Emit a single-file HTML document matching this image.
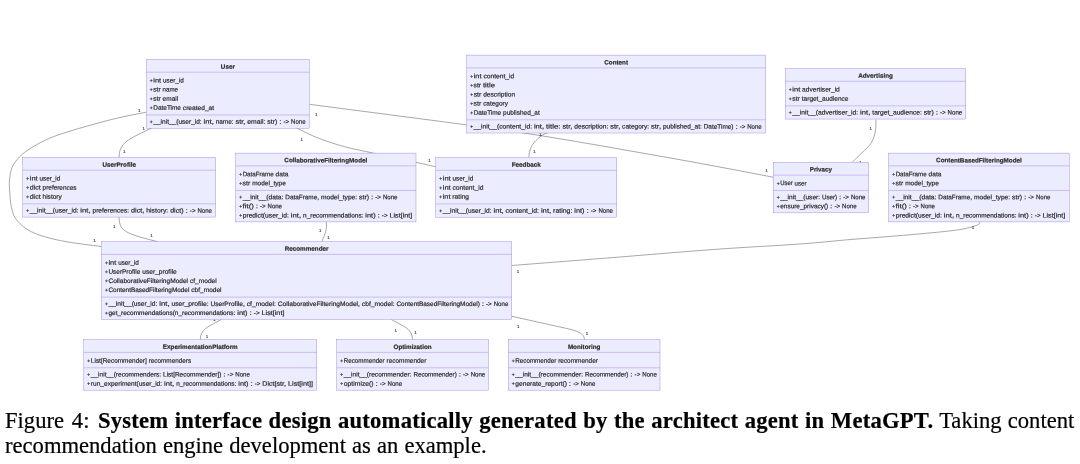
<!DOCTYPE html>
<html><head><meta charset="utf-8"><title>Figure 4</title>
<style>
html,body{margin:0;padding:0;background:#fff;}
body{width:1080px;height:464px;position:relative;overflow:hidden;}
svg,.cap{will-change:transform;}
svg text{text-rendering:geometricPrecision;font-family:"Liberation Sans",sans-serif;font-size:6.4px;fill:#2b2b2b;stroke:#2b2b2b;stroke-width:0.2;}
svg .pl{font-size:4.9px;}
svg .tt{font-weight:bold;text-anchor:middle;font-size:6.3px;}
svg .lb text{font-size:4.4px;text-anchor:middle;stroke:#333;stroke-width:0.12;fill:#333;}
.bx{fill:#ECECFF;stroke:#9370DB;stroke-width:0.38;}
.ln{fill:none;stroke:#9370DB;stroke-width:0.38;}
.cap b{letter-spacing:0.23px;}
.cap i{font-style:normal;margin-right:2.2px;word-spacing:1.6px;}
.cap{position:absolute;left:4.7px;top:407.9px;width:1069.3px;-webkit-text-stroke:0.2px #000;font-family:"Liberation Serif",serif;font-size:22.6px;line-height:25px;color:#000;}
.l1{white-space:nowrap;text-align:justify;text-align-last:justify;}
.l2{white-space:nowrap;word-spacing:0.45px;}
</style></head><body>
<svg width="1080" height="400" viewBox="0 0 1080 400" style="position:absolute;left:0;top:0">
<g fill="none" stroke="#505050" stroke-width="0.5">
<path d="M146.30,112.20C141.92,113.08 129.28,115.35 120.00,117.50C110.72,119.65 100.53,122.32 90.60,125.10C80.67,127.88 67.95,131.68 60.40,134.20C52.85,136.72 50.33,137.82 45.30,140.20C40.27,142.58 34.48,145.73 30.20,148.50C25.92,151.27 22.62,153.65 19.60,156.80C16.58,159.95 13.78,163.53 12.10,167.40C10.42,171.27 9.92,176.23 9.50,180.00C9.08,183.77 9.27,185.40 9.60,190.00C9.93,194.60 10.27,202.52 11.50,207.60C12.73,212.68 13.42,216.35 17.00,220.50C20.58,224.65 25.60,229.12 33.00,232.50C40.40,235.88 50.00,238.47 61.40,240.80C72.80,243.13 94.73,245.55 101.40,246.50"/>
<path d="M151.5,128.2C140,133.5 134,136.5 130,139C122,144 119.1,149 119.1,157.4"/>
<path d="M119.1,217.4C119.1,224 121,229 127.6,232.4C134,235.7 145,238.5 157.8,241.7"/>
<path d="M309.40,104.30C335.75,107.75 431.82,120.22 467.50,125.00C503.18,129.78 505.58,130.28 523.50,133.00C541.42,135.72 558.08,138.47 575.00,141.30C591.92,144.13 608.33,147.08 625.00,150.00C641.67,152.92 658.33,155.80 675.00,158.80C691.67,161.80 708.63,164.93 725.00,168.00C741.37,171.07 765.17,175.67 773.20,177.20"/>
<path d="M296.60,128.00C300.33,129.73 310.93,135.27 319.00,138.40C327.07,141.53 335.88,144.33 345.00,146.80C354.12,149.27 361.90,150.62 373.70,153.20C385.50,155.78 405.45,160.03 415.80,162.30C426.15,164.57 432.47,166.05 435.80,166.80"/>
<path d="M547.50,132.90C546.53,133.33 543.95,133.85 541.70,135.50C539.45,137.15 535.95,140.38 534.00,142.80C532.05,145.22 530.87,147.57 530.00,150.00C529.13,152.43 529.00,156.17 528.80,157.40"/>
<path d="M875.90,119.50C875.87,121.03 876.02,125.83 875.70,128.70C875.38,131.57 874.95,134.03 874.00,136.70C873.05,139.37 872.00,142.03 870.00,144.70C868.00,147.37 864.95,149.78 862.00,152.70C859.05,155.62 853.92,160.62 852.30,162.20"/>
<path d="M326.2,221.5C327.2,228 326,232 321.8,241.7"/>
<path d="M511.80,265.50C527.73,264.25 573.57,260.68 607.40,258.00C641.23,255.32 682.70,251.73 714.80,249.40C746.90,247.07 777.15,245.67 800.00,244.00C822.85,242.33 834.62,240.85 851.90,239.40C869.18,237.95 886.42,236.83 903.70,235.30C920.98,233.77 943.50,231.85 955.60,230.20C967.70,228.55 972.20,226.85 976.30,225.40C980.40,223.95 979.55,222.15 980.20,221.50"/>
<path d="M221.3,319.5L212,324.5C205.5,328 200.3,331.5 200.3,339.7"/>
<path d="M391.3,319.5L400,324.2C406,327.5 412.5,330.5 412.5,339.7"/>
<path d="M511.85,316.3L556,326.1C572,329.7 584.4,331.3 584.4,339.7"/>
</g>
<g class="lb">
<text x="139.3" y="112.0">1</text>
<text x="94.4" y="242.3">1</text>
<text x="143.7" y="129.5">1</text>
<text x="124.2" y="152.7">1</text>
<text x="114.3" y="228.3">1</text>
<text x="151.5" y="236.5">1</text>
<text x="316.3" y="115.5">1</text>
<text x="766.4" y="171.8">1</text>
<text x="301.8" y="141.0">1</text>
<text x="429.5" y="162.0">1</text>
<text x="540.3" y="135.5">1</text>
<text x="534.6" y="153.0">1</text>
<text x="870.8" y="130.4">1</text>
<text x="860.5" y="163.8">1</text>
<text x="320.2" y="232.0">1</text>
<text x="328.6" y="239.1">1</text>
<text x="518.0" y="273.3">1</text>
<text x="973.0" y="228.7">1</text>
<text x="214.5" y="320.8">1</text>
<text x="206.9" y="337.8">1</text>
<text x="395.7" y="332.3">1</text>
<text x="415.5" y="333.8">1</text>
<text x="518.2" y="328.1">1</text>
<text x="587.1" y="335.0">1</text>
</g>
<g>
<rect class="bx" x="146.30" y="59.40" width="163.10" height="68.80"/>
<path class="ln" d="M146.30,72.20H309.40M146.30,114.98H309.40"/>
<text class="tt" transform="rotate(0.03 227.8 68.7)" x="227.85" y="68.70">User</text>
<text class="pl" transform="rotate(0.03 150.0 82.5)" x="149.85" y="82.25">+</text><text transform="rotate(0.03 150.0 82.5)" x="153.34" y="82.50"><tspan x="153.34" textLength="7.82" lengthAdjust="spacingAndGlyphs">int</tspan> <tspan x="163.08" textLength="20.72" lengthAdjust="spacingAndGlyphs">user_id</tspan></text>
<text class="pl" transform="rotate(0.03 150.0 91.6)" x="149.85" y="91.37">+</text><text transform="rotate(0.03 150.0 91.6)" x="153.28" y="91.62"><tspan x="153.28" textLength="7.44" lengthAdjust="spacingAndGlyphs">str</tspan> <tspan x="162.60" textLength="15.30" lengthAdjust="spacingAndGlyphs">name</tspan></text>
<text class="pl" transform="rotate(0.03 150.0 100.7)" x="149.85" y="100.49">+</text><text transform="rotate(0.03 150.0 100.7)" x="153.29" y="100.74"><tspan x="153.29" textLength="7.47" lengthAdjust="spacingAndGlyphs">str</tspan> <tspan x="162.64" textLength="15.56" lengthAdjust="spacingAndGlyphs">email</tspan></text>
<text class="pl" transform="rotate(0.03 150.0 109.9)" x="149.85" y="109.61">+</text><text transform="rotate(0.03 150.0 109.9)" x="153.34" y="109.86"><tspan x="153.34" textLength="27.58" lengthAdjust="spacingAndGlyphs">DateTime</tspan> <tspan x="182.84" textLength="31.26" lengthAdjust="spacingAndGlyphs">created_at</tspan></text>
<text class="pl" transform="rotate(0.03 150.0 123.7)" x="149.85" y="123.43">+</text><text transform="rotate(0.03 150.0 123.7)" x="153.34" y="123.68"><tspan x="153.34" textLength="48.36" lengthAdjust="spacingAndGlyphs">__init__(user_id:</tspan> <tspan x="203.61" textLength="10.15" lengthAdjust="spacingAndGlyphs">int,</tspan> <tspan x="215.68" textLength="17.91" lengthAdjust="spacingAndGlyphs">name:</tspan> <tspan x="235.51" textLength="9.92" lengthAdjust="spacingAndGlyphs">str,</tspan> <tspan x="247.34" textLength="18.13" lengthAdjust="spacingAndGlyphs">email:</tspan> <tspan x="267.39" textLength="9.92" lengthAdjust="spacingAndGlyphs">str)</tspan> <tspan x="279.22" textLength="2.34" lengthAdjust="spacingAndGlyphs">:</tspan> <tspan x="283.48" textLength="5.67" lengthAdjust="spacingAndGlyphs">-&gt;</tspan> <tspan x="291.07" textLength="14.43" lengthAdjust="spacingAndGlyphs">None</tspan></text>
</g>
<g>
<rect class="bx" x="466.60" y="55.10" width="299.10" height="77.92"/>
<path class="ln" d="M466.60,67.90H765.70M466.60,119.80H765.70"/>
<text class="tt" transform="rotate(0.03 616.2 64.4)" x="616.15" y="64.40">Content</text>
<text class="pl" transform="rotate(0.03 470.3 78.2)" x="470.15" y="77.95">+</text><text transform="rotate(0.03 470.3 78.2)" x="473.65" y="78.20"><tspan x="473.65" textLength="7.85" lengthAdjust="spacingAndGlyphs">int</tspan> <tspan x="483.43" textLength="30.87" lengthAdjust="spacingAndGlyphs">content_id</tspan></text>
<text class="pl" transform="rotate(0.03 470.3 87.3)" x="470.15" y="87.07">+</text><text transform="rotate(0.03 470.3 87.3)" x="473.59" y="87.32"><tspan x="473.59" textLength="7.48" lengthAdjust="spacingAndGlyphs">str</tspan> <tspan x="482.96" textLength="12.04" lengthAdjust="spacingAndGlyphs">title</tspan></text>
<text class="pl" transform="rotate(0.03 470.3 96.4)" x="470.15" y="96.19">+</text><text transform="rotate(0.03 470.3 96.4)" x="473.66" y="96.44"><tspan x="473.66" textLength="7.62" lengthAdjust="spacingAndGlyphs">str</tspan> <tspan x="483.20" textLength="32.00" lengthAdjust="spacingAndGlyphs">description</tspan></text>
<text class="pl" transform="rotate(0.03 470.3 105.6)" x="470.15" y="105.31">+</text><text transform="rotate(0.03 470.3 105.6)" x="473.64" y="105.56"><tspan x="473.64" textLength="7.59" lengthAdjust="spacingAndGlyphs">str</tspan> <tspan x="483.15" textLength="24.75" lengthAdjust="spacingAndGlyphs">category</tspan></text>
<text class="pl" transform="rotate(0.03 470.3 114.7)" x="470.15" y="114.43">+</text><text transform="rotate(0.03 470.3 114.7)" x="473.64" y="114.68"><tspan x="473.64" textLength="27.55" lengthAdjust="spacingAndGlyphs">DateTime</tspan> <tspan x="503.11" textLength="36.59" lengthAdjust="spacingAndGlyphs">published_at</tspan></text>
<text class="pl" transform="rotate(0.03 470.3 128.5)" x="470.15" y="128.25">+</text><text transform="rotate(0.03 470.3 128.5)" x="473.64" y="128.50"><tspan x="473.64" textLength="58.36" lengthAdjust="spacingAndGlyphs">__init__(content_id:</tspan> <tspan x="533.91" textLength="10.15" lengthAdjust="spacingAndGlyphs">int,</tspan> <tspan x="545.97" textLength="14.54" lengthAdjust="spacingAndGlyphs">title:</tspan> <tspan x="562.42" textLength="9.91" lengthAdjust="spacingAndGlyphs">str,</tspan> <tspan x="574.25" textLength="34.14" lengthAdjust="spacingAndGlyphs">description:</tspan> <tspan x="610.31" textLength="9.91" lengthAdjust="spacingAndGlyphs">str,</tspan> <tspan x="622.13" textLength="27.04" lengthAdjust="spacingAndGlyphs">category:</tspan> <tspan x="651.09" textLength="9.91" lengthAdjust="spacingAndGlyphs">str,</tspan> <tspan x="662.92" textLength="38.86" lengthAdjust="spacingAndGlyphs">published_at:</tspan> <tspan x="703.69" textLength="29.83" lengthAdjust="spacingAndGlyphs">DateTime)</tspan> <tspan x="735.44" textLength="2.34" lengthAdjust="spacingAndGlyphs">:</tspan> <tspan x="739.69" textLength="5.67" lengthAdjust="spacingAndGlyphs">-&gt;</tspan> <tspan x="747.28" textLength="14.42" lengthAdjust="spacingAndGlyphs">None</tspan></text>
</g>
<g>
<rect class="bx" x="785.30" y="68.50" width="180.50" height="50.56"/>
<path class="ln" d="M785.30,81.30H965.80M785.30,105.84H965.80"/>
<text class="tt" transform="rotate(0.03 875.5 77.8)" x="875.55" y="77.80">Advertising</text>
<text class="pl" transform="rotate(0.03 789.0 91.6)" x="788.85" y="91.35">+</text><text transform="rotate(0.03 789.0 91.6)" x="792.35" y="91.60"><tspan x="792.35" textLength="7.85" lengthAdjust="spacingAndGlyphs">int</tspan> <tspan x="802.12" textLength="37.68" lengthAdjust="spacingAndGlyphs">advertiser_id</tspan></text>
<text class="pl" transform="rotate(0.03 789.0 100.7)" x="788.85" y="100.47">+</text><text transform="rotate(0.03 789.0 100.7)" x="792.33" y="100.72"><tspan x="792.33" textLength="7.57" lengthAdjust="spacingAndGlyphs">str</tspan> <tspan x="801.82" textLength="46.58" lengthAdjust="spacingAndGlyphs">target_audience</tspan></text>
<text class="pl" transform="rotate(0.03 789.0 114.5)" x="788.85" y="114.29">+</text><text transform="rotate(0.03 789.0 114.5)" x="792.37" y="114.54"><tspan x="792.37" textLength="65.83" lengthAdjust="spacingAndGlyphs">__init__(advertiser_id:</tspan> <tspan x="860.13" textLength="10.25" lengthAdjust="spacingAndGlyphs">int,</tspan> <tspan x="872.32" textLength="49.45" lengthAdjust="spacingAndGlyphs">target_audience:</tspan> <tspan x="923.71" textLength="10.01" lengthAdjust="spacingAndGlyphs">str)</tspan> <tspan x="935.66" textLength="2.36" lengthAdjust="spacingAndGlyphs">:</tspan> <tspan x="939.96" textLength="5.73" lengthAdjust="spacingAndGlyphs">-&gt;</tspan> <tspan x="947.62" textLength="14.58" lengthAdjust="spacingAndGlyphs">None</tspan></text>
</g>
<g>
<rect class="bx" x="22.70" y="157.40" width="193.00" height="59.68"/>
<path class="ln" d="M22.70,170.20H215.70M22.70,203.86H215.70"/>
<text class="tt" transform="rotate(0.03 119.2 166.7)" x="119.20" y="166.70">UserProfile</text>
<text class="pl" transform="rotate(0.03 26.4 180.5)" x="26.25" y="180.25">+</text><text transform="rotate(0.03 26.4 180.5)" x="29.74" y="180.50"><tspan x="29.74" textLength="7.82" lengthAdjust="spacingAndGlyphs">int</tspan> <tspan x="39.48" textLength="20.72" lengthAdjust="spacingAndGlyphs">user_id</tspan></text>
<text class="pl" transform="rotate(0.03 26.4 189.6)" x="26.25" y="189.37">+</text><text transform="rotate(0.03 26.4 189.6)" x="29.73" y="189.62"><tspan x="29.73" textLength="11.01" lengthAdjust="spacingAndGlyphs">dict</tspan> <tspan x="42.64" textLength="33.86" lengthAdjust="spacingAndGlyphs">preferences</tspan></text>
<text class="pl" transform="rotate(0.03 26.4 198.7)" x="26.25" y="198.49">+</text><text transform="rotate(0.03 26.4 198.7)" x="29.71" y="198.74"><tspan x="29.71" textLength="10.94" lengthAdjust="spacingAndGlyphs">dict</tspan> <tspan x="42.54" textLength="19.26" lengthAdjust="spacingAndGlyphs">history</tspan></text>
<text class="pl" transform="rotate(0.03 26.4 212.6)" x="26.25" y="212.31">+</text><text transform="rotate(0.03 26.4 212.6)" x="29.76" y="212.56"><tspan x="29.76" textLength="48.66" lengthAdjust="spacingAndGlyphs">__init__(user_id:</tspan> <tspan x="80.35" textLength="10.22" lengthAdjust="spacingAndGlyphs">int,</tspan> <tspan x="92.50" textLength="36.52" lengthAdjust="spacingAndGlyphs">preferences:</tspan> <tspan x="130.94" textLength="13.46" lengthAdjust="spacingAndGlyphs">dict,</tspan> <tspan x="146.33" textLength="21.91" lengthAdjust="spacingAndGlyphs">history:</tspan> <tspan x="170.17" textLength="13.46" lengthAdjust="spacingAndGlyphs">dict)</tspan> <tspan x="185.56" textLength="2.35" lengthAdjust="spacingAndGlyphs">:</tspan> <tspan x="189.84" textLength="5.71" lengthAdjust="spacingAndGlyphs">-&gt;</tspan> <tspan x="197.48" textLength="14.52" lengthAdjust="spacingAndGlyphs">None</tspan></text>
</g>
<g>
<rect class="bx" x="235.60" y="153.10" width="180.40" height="68.80"/>
<path class="ln" d="M235.60,165.90H416.00M235.60,190.44H416.00"/>
<text class="tt" transform="rotate(0.03 325.8 162.4)" x="325.80" y="162.40">CollaborativeFilteringModel</text>
<text class="pl" transform="rotate(0.03 239.3 176.2)" x="239.15" y="175.95">+</text><text transform="rotate(0.03 239.3 176.2)" x="242.64" y="176.20"><tspan x="242.64" textLength="31.07" lengthAdjust="spacingAndGlyphs">DataFrame</tspan> <tspan x="275.63" textLength="12.77" lengthAdjust="spacingAndGlyphs">data</tspan></text>
<text class="pl" transform="rotate(0.03 239.3 185.3)" x="239.15" y="185.07">+</text><text transform="rotate(0.03 239.3 185.3)" x="242.64" y="185.32"><tspan x="242.64" textLength="7.59" lengthAdjust="spacingAndGlyphs">str</tspan> <tspan x="252.15" textLength="33.65" lengthAdjust="spacingAndGlyphs">model_type</tspan></text>
<text class="pl" transform="rotate(0.03 239.3 199.1)" x="239.15" y="198.89">+</text><text transform="rotate(0.03 239.3 199.1)" x="242.66" y="199.14"><tspan x="242.66" textLength="40.73" lengthAdjust="spacingAndGlyphs">__init__(data:</tspan> <tspan x="285.33" textLength="33.64" lengthAdjust="spacingAndGlyphs">DataFrame,</tspan> <tspan x="320.90" textLength="36.25" lengthAdjust="spacingAndGlyphs">model_type:</tspan> <tspan x="359.08" textLength="10.00" lengthAdjust="spacingAndGlyphs">str)</tspan> <tspan x="371.01" textLength="2.36" lengthAdjust="spacingAndGlyphs">:</tspan> <tspan x="375.30" textLength="5.72" lengthAdjust="spacingAndGlyphs">-&gt;</tspan> <tspan x="382.95" textLength="14.55" lengthAdjust="spacingAndGlyphs">None</tspan></text>
<text class="pl" transform="rotate(0.03 239.3 208.3)" x="239.15" y="208.01">+</text><text transform="rotate(0.03 239.3 208.3)" x="242.61" y="208.26"><tspan x="242.61" textLength="11.29" lengthAdjust="spacingAndGlyphs">fit()</tspan> <tspan x="255.81" textLength="2.32" lengthAdjust="spacingAndGlyphs">:</tspan> <tspan x="260.03" textLength="5.63" lengthAdjust="spacingAndGlyphs">-&gt;</tspan> <tspan x="267.57" textLength="14.33" lengthAdjust="spacingAndGlyphs">None</tspan></text>
<text class="pl" transform="rotate(0.03 239.3 217.4)" x="239.15" y="217.13">+</text><text transform="rotate(0.03 239.3 217.4)" x="242.66" y="217.38"><tspan x="242.66" textLength="46.29" lengthAdjust="spacingAndGlyphs">predict(user_id:</tspan> <tspan x="290.89" textLength="10.24" lengthAdjust="spacingAndGlyphs">int,</tspan> <tspan x="303.05" textLength="60.39" lengthAdjust="spacingAndGlyphs">n_recommendations:</tspan> <tspan x="365.38" textLength="10.24" lengthAdjust="spacingAndGlyphs">int)</tspan> <tspan x="377.54" textLength="2.36" lengthAdjust="spacingAndGlyphs">:</tspan> <tspan x="381.83" textLength="5.72" lengthAdjust="spacingAndGlyphs">-&gt;</tspan> <tspan x="389.49" textLength="22.81" lengthAdjust="spacingAndGlyphs">List[int]</tspan></text>
</g>
<g>
<rect class="bx" x="435.70" y="157.50" width="181.10" height="59.68"/>
<path class="ln" d="M435.70,170.30H616.80M435.70,203.96H616.80"/>
<text class="tt" transform="rotate(0.03 526.2 166.8)" x="526.25" y="166.80">Feedback</text>
<text class="pl" transform="rotate(0.03 439.4 180.6)" x="439.25" y="180.35">+</text><text transform="rotate(0.03 439.4 180.6)" x="442.74" y="180.60"><tspan x="442.74" textLength="7.82" lengthAdjust="spacingAndGlyphs">int</tspan> <tspan x="452.48" textLength="20.72" lengthAdjust="spacingAndGlyphs">user_id</tspan></text>
<text class="pl" transform="rotate(0.03 439.4 189.7)" x="439.25" y="189.47">+</text><text transform="rotate(0.03 439.4 189.7)" x="442.75" y="189.72"><tspan x="442.75" textLength="7.85" lengthAdjust="spacingAndGlyphs">int</tspan> <tspan x="452.53" textLength="30.87" lengthAdjust="spacingAndGlyphs">content_id</tspan></text>
<text class="pl" transform="rotate(0.03 439.4 198.8)" x="439.25" y="198.59">+</text><text transform="rotate(0.03 439.4 198.8)" x="442.71" y="198.84"><tspan x="442.71" textLength="7.76" lengthAdjust="spacingAndGlyphs">int</tspan> <tspan x="452.38" textLength="16.72" lengthAdjust="spacingAndGlyphs">rating</tspan></text>
<text class="pl" transform="rotate(0.03 439.4 212.7)" x="439.25" y="212.41">+</text><text transform="rotate(0.03 439.4 212.7)" x="442.76" y="212.66"><tspan x="442.76" textLength="48.76" lengthAdjust="spacingAndGlyphs">__init__(user_id:</tspan> <tspan x="493.45" textLength="10.24" lengthAdjust="spacingAndGlyphs">int,</tspan> <tspan x="505.62" textLength="33.35" lengthAdjust="spacingAndGlyphs">content_id:</tspan> <tspan x="540.91" textLength="10.24" lengthAdjust="spacingAndGlyphs">int,</tspan> <tspan x="553.08" textLength="19.33" lengthAdjust="spacingAndGlyphs">rating:</tspan> <tspan x="574.34" textLength="10.24" lengthAdjust="spacingAndGlyphs">int)</tspan> <tspan x="586.51" textLength="2.36" lengthAdjust="spacingAndGlyphs">:</tspan> <tspan x="590.80" textLength="5.72" lengthAdjust="spacingAndGlyphs">-&gt;</tspan> <tspan x="598.45" textLength="14.55" lengthAdjust="spacingAndGlyphs">None</tspan></text>
</g>
<g>
<rect class="bx" x="773.20" y="162.30" width="95.40" height="50.56"/>
<path class="ln" d="M773.20,175.10H868.60M773.20,190.52H868.60"/>
<text class="tt" transform="rotate(0.03 820.9 171.6)" x="820.90" y="171.60">Privacy</text>
<text class="pl" transform="rotate(0.03 776.9 185.4)" x="776.75" y="185.15">+</text><text transform="rotate(0.03 776.9 185.4)" x="780.20" y="185.40"><tspan x="780.20" textLength="12.52" lengthAdjust="spacingAndGlyphs">User</tspan> <tspan x="794.62" textLength="11.88" lengthAdjust="spacingAndGlyphs">user</tspan></text>
<text class="pl" transform="rotate(0.03 776.9 199.2)" x="776.75" y="198.97">+</text><text transform="rotate(0.03 776.9 199.2)" x="780.25" y="199.22"><tspan x="780.25" textLength="39.84" lengthAdjust="spacingAndGlyphs">__init__(user:</tspan> <tspan x="822.02" textLength="15.06" lengthAdjust="spacingAndGlyphs">User)</tspan> <tspan x="839.00" textLength="2.35" lengthAdjust="spacingAndGlyphs">:</tspan> <tspan x="843.28" textLength="5.70" lengthAdjust="spacingAndGlyphs">-&gt;</tspan> <tspan x="850.90" textLength="14.50" lengthAdjust="spacingAndGlyphs">None</tspan></text>
<text class="pl" transform="rotate(0.03 776.9 208.3)" x="776.75" y="208.09">+</text><text transform="rotate(0.03 776.9 208.3)" x="780.26" y="208.34"><tspan x="780.26" textLength="47.93" lengthAdjust="spacingAndGlyphs">ensure_privacy()</tspan> <tspan x="830.12" textLength="2.36" lengthAdjust="spacingAndGlyphs">:</tspan> <tspan x="834.41" textLength="5.72" lengthAdjust="spacingAndGlyphs">-&gt;</tspan> <tspan x="842.06" textLength="14.54" lengthAdjust="spacingAndGlyphs">None</tspan></text>
</g>
<g>
<rect class="bx" x="888.60" y="153.10" width="180.70" height="68.80"/>
<path class="ln" d="M888.60,165.90H1069.30M888.60,190.44H1069.30"/>
<text class="tt" transform="rotate(0.03 979.0 162.4)" x="978.95" y="162.40">ContentBasedFilteringModel</text>
<text class="pl" transform="rotate(0.03 892.3 176.2)" x="892.15" y="175.95">+</text><text transform="rotate(0.03 892.3 176.2)" x="895.64" y="176.20"><tspan x="895.64" textLength="31.07" lengthAdjust="spacingAndGlyphs">DataFrame</tspan> <tspan x="928.63" textLength="12.77" lengthAdjust="spacingAndGlyphs">data</tspan></text>
<text class="pl" transform="rotate(0.03 892.3 185.3)" x="892.15" y="185.07">+</text><text transform="rotate(0.03 892.3 185.3)" x="895.64" y="185.32"><tspan x="895.64" textLength="7.59" lengthAdjust="spacingAndGlyphs">str</tspan> <tspan x="905.15" textLength="33.65" lengthAdjust="spacingAndGlyphs">model_type</tspan></text>
<text class="pl" transform="rotate(0.03 892.3 199.1)" x="892.15" y="198.89">+</text><text transform="rotate(0.03 892.3 199.1)" x="895.66" y="199.14"><tspan x="895.66" textLength="40.73" lengthAdjust="spacingAndGlyphs">__init__(data:</tspan> <tspan x="938.33" textLength="33.64" lengthAdjust="spacingAndGlyphs">DataFrame,</tspan> <tspan x="973.90" textLength="36.25" lengthAdjust="spacingAndGlyphs">model_type:</tspan> <tspan x="1012.08" textLength="10.00" lengthAdjust="spacingAndGlyphs">str)</tspan> <tspan x="1024.01" textLength="2.36" lengthAdjust="spacingAndGlyphs">:</tspan> <tspan x="1028.30" textLength="5.72" lengthAdjust="spacingAndGlyphs">-&gt;</tspan> <tspan x="1035.95" textLength="14.55" lengthAdjust="spacingAndGlyphs">None</tspan></text>
<text class="pl" transform="rotate(0.03 892.3 208.3)" x="892.15" y="208.01">+</text><text transform="rotate(0.03 892.3 208.3)" x="895.61" y="208.26"><tspan x="895.61" textLength="11.29" lengthAdjust="spacingAndGlyphs">fit()</tspan> <tspan x="908.81" textLength="2.32" lengthAdjust="spacingAndGlyphs">:</tspan> <tspan x="913.03" textLength="5.63" lengthAdjust="spacingAndGlyphs">-&gt;</tspan> <tspan x="920.57" textLength="14.33" lengthAdjust="spacingAndGlyphs">None</tspan></text>
<text class="pl" transform="rotate(0.03 892.3 217.4)" x="892.15" y="217.13">+</text><text transform="rotate(0.03 892.3 217.4)" x="895.66" y="217.38"><tspan x="895.66" textLength="46.29" lengthAdjust="spacingAndGlyphs">predict(user_id:</tspan> <tspan x="943.89" textLength="10.24" lengthAdjust="spacingAndGlyphs">int,</tspan> <tspan x="956.05" textLength="60.39" lengthAdjust="spacingAndGlyphs">n_recommendations:</tspan> <tspan x="1018.38" textLength="10.24" lengthAdjust="spacingAndGlyphs">int)</tspan> <tspan x="1030.54" textLength="2.36" lengthAdjust="spacingAndGlyphs">:</tspan> <tspan x="1034.83" textLength="5.72" lengthAdjust="spacingAndGlyphs">-&gt;</tspan> <tspan x="1042.49" textLength="22.81" lengthAdjust="spacingAndGlyphs">List[int]</tspan></text>
</g>
<g>
<rect class="bx" x="101.40" y="241.55" width="410.40" height="77.92"/>
<path class="ln" d="M101.40,254.35H511.80M101.40,297.13H511.80"/>
<text class="tt" transform="rotate(0.03 306.6 250.9)" x="306.60" y="250.85">Recommender</text>
<text class="pl" transform="rotate(0.03 105.1 264.7)" x="104.95" y="264.40">+</text><text transform="rotate(0.03 105.1 264.7)" x="108.44" y="264.65"><tspan x="108.44" textLength="7.82" lengthAdjust="spacingAndGlyphs">int</tspan> <tspan x="118.18" textLength="20.72" lengthAdjust="spacingAndGlyphs">user_id</tspan></text>
<text class="pl" transform="rotate(0.03 105.1 273.8)" x="104.95" y="273.52">+</text><text transform="rotate(0.03 105.1 273.8)" x="108.46" y="273.77"><tspan x="108.46" textLength="31.85" lengthAdjust="spacingAndGlyphs">UserProfile</tspan> <tspan x="142.25" textLength="34.55" lengthAdjust="spacingAndGlyphs">user_profile</tspan></text>
<text class="pl" transform="rotate(0.03 105.1 282.9)" x="104.95" y="282.64">+</text><text transform="rotate(0.03 105.1 282.9)" x="108.47" y="282.89"><tspan x="108.47" textLength="79.60" lengthAdjust="spacingAndGlyphs">CollaborativeFilteringModel</tspan> <tspan x="190.01" textLength="26.69" lengthAdjust="spacingAndGlyphs">cf_model</tspan></text>
<text class="pl" transform="rotate(0.03 105.1 292.0)" x="104.95" y="291.76">+</text><text transform="rotate(0.03 105.1 292.0)" x="108.47" y="292.01"><tspan x="108.47" textLength="80.89" lengthAdjust="spacingAndGlyphs">ContentBasedFilteringModel</tspan> <tspan x="191.30" textLength="30.30" lengthAdjust="spacingAndGlyphs">cbf_model</tspan></text>
<text class="pl" transform="rotate(0.03 105.1 305.8)" x="104.95" y="305.58">+</text><text transform="rotate(0.03 105.1 305.8)" x="108.47" y="305.83"><tspan x="108.47" textLength="48.89" lengthAdjust="spacingAndGlyphs">__init__(user_id:</tspan> <tspan x="159.30" textLength="10.26" lengthAdjust="spacingAndGlyphs">int,</tspan> <tspan x="171.50" textLength="37.05" lengthAdjust="spacingAndGlyphs">user_profile:</tspan> <tspan x="210.49" textLength="34.34" lengthAdjust="spacingAndGlyphs">UserProfile,</tspan> <tspan x="246.77" textLength="29.10" lengthAdjust="spacingAndGlyphs">cf_model:</tspan> <tspan x="277.81" textLength="82.11" lengthAdjust="spacingAndGlyphs">CollaborativeFilteringModel,</tspan> <tspan x="361.85" textLength="32.69" lengthAdjust="spacingAndGlyphs">cbf_model:</tspan> <tspan x="396.48" textLength="83.32" lengthAdjust="spacingAndGlyphs">ContentBasedFilteringModel)</tspan> <tspan x="481.73" textLength="2.36" lengthAdjust="spacingAndGlyphs">:</tspan> <tspan x="486.03" textLength="5.74" lengthAdjust="spacingAndGlyphs">-&gt;</tspan> <tspan x="493.71" textLength="14.59" lengthAdjust="spacingAndGlyphs">None</tspan></text>
<text class="pl" transform="rotate(0.03 105.1 314.9)" x="104.95" y="314.70">+</text><text transform="rotate(0.03 105.1 314.9)" x="108.47" y="314.95"><tspan x="108.47" textLength="126.92" lengthAdjust="spacingAndGlyphs">get_recommendations(n_recommendations:</tspan> <tspan x="237.33" textLength="10.27" lengthAdjust="spacingAndGlyphs">int)</tspan> <tspan x="249.54" textLength="2.36" lengthAdjust="spacingAndGlyphs">:</tspan> <tspan x="253.84" textLength="5.74" lengthAdjust="spacingAndGlyphs">-&gt;</tspan> <tspan x="261.52" textLength="22.88" lengthAdjust="spacingAndGlyphs">List[int]</tspan></text>
</g>
<g>
<rect class="bx" x="83.80" y="339.60" width="233.00" height="50.56"/>
<path class="ln" d="M83.80,352.40H316.80M83.80,367.82H316.80"/>
<text class="tt" transform="rotate(0.03 200.3 348.9)" x="200.30" y="348.90">ExperimentationPlatform</text>
<text class="pl" transform="rotate(0.03 87.5 362.7)" x="87.35" y="362.45">+</text><text transform="rotate(0.03 87.5 362.7)" x="90.86" y="362.70"><tspan x="90.86" textLength="55.93" lengthAdjust="spacingAndGlyphs">List[Recommender]</tspan> <tspan x="148.72" textLength="42.38" lengthAdjust="spacingAndGlyphs">recommenders</tspan></text>
<text class="pl" transform="rotate(0.03 87.5 376.5)" x="87.35" y="376.27">+</text><text transform="rotate(0.03 87.5 376.5)" x="90.86" y="376.52"><tspan x="90.86" textLength="70.27" lengthAdjust="spacingAndGlyphs">__init__(recommenders:</tspan> <tspan x="163.07" textLength="58.34" lengthAdjust="spacingAndGlyphs">List[Recommender])</tspan> <tspan x="223.33" textLength="2.35" lengthAdjust="spacingAndGlyphs">:</tspan> <tspan x="227.62" textLength="5.72" lengthAdjust="spacingAndGlyphs">-&gt;</tspan> <tspan x="235.26" textLength="14.54" lengthAdjust="spacingAndGlyphs">None</tspan></text>
<text class="pl" transform="rotate(0.03 87.5 385.6)" x="87.35" y="385.39">+</text><text transform="rotate(0.03 87.5 385.6)" x="90.85" y="385.64"><tspan x="90.85" textLength="71.24" lengthAdjust="spacingAndGlyphs">run_experiment(user_id:</tspan> <tspan x="164.02" textLength="10.20" lengthAdjust="spacingAndGlyphs">int,</tspan> <tspan x="176.15" textLength="60.20" lengthAdjust="spacingAndGlyphs">n_recommendations:</tspan> <tspan x="238.28" textLength="10.20" lengthAdjust="spacingAndGlyphs">int)</tspan> <tspan x="250.41" textLength="2.35" lengthAdjust="spacingAndGlyphs">:</tspan> <tspan x="254.68" textLength="5.70" lengthAdjust="spacingAndGlyphs">-&gt;</tspan> <tspan x="262.31" textLength="23.77" lengthAdjust="spacingAndGlyphs">Dict[str,</tspan> <tspan x="288.01" textLength="25.09" lengthAdjust="spacingAndGlyphs">List[int]]</tspan></text>
</g>
<g>
<rect class="bx" x="336.70" y="339.60" width="151.80" height="50.56"/>
<path class="ln" d="M336.70,352.40H488.50M336.70,367.82H488.50"/>
<text class="tt" transform="rotate(0.03 412.6 348.9)" x="412.60" y="348.90">Optimization</text>
<text class="pl" transform="rotate(0.03 340.4 362.7)" x="340.25" y="362.45">+</text><text transform="rotate(0.03 340.4 362.7)" x="343.75" y="362.70"><tspan x="343.75" textLength="40.93" lengthAdjust="spacingAndGlyphs">Recommender</tspan> <tspan x="386.60" textLength="39.70" lengthAdjust="spacingAndGlyphs">recommender</tspan></text>
<text class="pl" transform="rotate(0.03 340.4 376.5)" x="340.25" y="376.27">+</text><text transform="rotate(0.03 340.4 376.5)" x="343.76" y="376.52"><tspan x="343.76" textLength="67.68" lengthAdjust="spacingAndGlyphs">__init__(recommender:</tspan> <tspan x="413.38" textLength="43.42" lengthAdjust="spacingAndGlyphs">Recommender)</tspan> <tspan x="458.73" textLength="2.35" lengthAdjust="spacingAndGlyphs">:</tspan> <tspan x="463.01" textLength="5.72" lengthAdjust="spacingAndGlyphs">-&gt;</tspan> <tspan x="470.66" textLength="14.54" lengthAdjust="spacingAndGlyphs">None</tspan></text>
<text class="pl" transform="rotate(0.03 340.4 385.6)" x="340.25" y="385.39">+</text><text transform="rotate(0.03 340.4 385.6)" x="343.77" y="385.64"><tspan x="343.77" textLength="29.86" lengthAdjust="spacingAndGlyphs">optimize()</tspan> <tspan x="375.57" textLength="2.36" lengthAdjust="spacingAndGlyphs">:</tspan> <tspan x="379.86" textLength="5.73" lengthAdjust="spacingAndGlyphs">-&gt;</tspan> <tspan x="387.53" textLength="14.57" lengthAdjust="spacingAndGlyphs">None</tspan></text>
</g>
<g>
<rect class="bx" x="508.30" y="339.60" width="151.70" height="50.56"/>
<path class="ln" d="M508.30,352.40H660.00M508.30,367.82H660.00"/>
<text class="tt" transform="rotate(0.03 584.1 348.9)" x="584.15" y="348.90">Monitoring</text>
<text class="pl" transform="rotate(0.03 512.0 362.7)" x="511.85" y="362.45">+</text><text transform="rotate(0.03 512.0 362.7)" x="515.35" y="362.70"><tspan x="515.35" textLength="40.93" lengthAdjust="spacingAndGlyphs">Recommender</tspan> <tspan x="558.20" textLength="39.70" lengthAdjust="spacingAndGlyphs">recommender</tspan></text>
<text class="pl" transform="rotate(0.03 512.0 376.5)" x="511.85" y="376.27">+</text><text transform="rotate(0.03 512.0 376.5)" x="515.36" y="376.52"><tspan x="515.36" textLength="67.68" lengthAdjust="spacingAndGlyphs">__init__(recommender:</tspan> <tspan x="584.98" textLength="43.42" lengthAdjust="spacingAndGlyphs">Recommender)</tspan> <tspan x="630.33" textLength="2.35" lengthAdjust="spacingAndGlyphs">:</tspan> <tspan x="634.61" textLength="5.72" lengthAdjust="spacingAndGlyphs">-&gt;</tspan> <tspan x="642.26" textLength="14.54" lengthAdjust="spacingAndGlyphs">None</tspan></text>
<text class="pl" transform="rotate(0.03 512.0 385.6)" x="511.85" y="385.39">+</text><text transform="rotate(0.03 512.0 385.6)" x="515.35" y="385.64"><tspan x="515.35" textLength="51.61" lengthAdjust="spacingAndGlyphs">generate_report()</tspan> <tspan x="568.89" textLength="2.35" lengthAdjust="spacingAndGlyphs">:</tspan> <tspan x="573.17" textLength="5.70" lengthAdjust="spacingAndGlyphs">-&gt;</tspan> <tspan x="580.80" textLength="14.50" lengthAdjust="spacingAndGlyphs">None</tspan></text>
</g>
</svg>
<div class="cap"><div class="l1"><i>Figure 4:</i> <b>System interface design automatically generated by the architect agent in MetaGPT.</b> Taking content</div><div class="l2">recommendation engine development as an example.</div></div>
</body></html>
